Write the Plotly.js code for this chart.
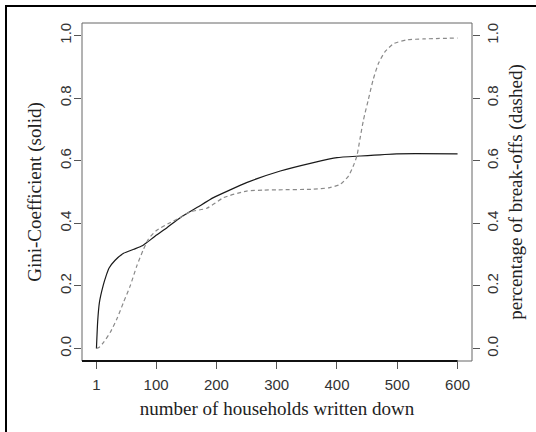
<!DOCTYPE html>
<html>
<head>
<meta charset="utf-8">
<script src="https://cdn.plot.ly/plotly-3.0.1.min.js"></script>
<style>
  html, body { margin: 0; padding: 0; background: #fff; }
  #wrap { position: relative; width: 536px; height: 432px; overflow: hidden; }
  #chart { position: absolute; left: 0; top: 0; width: 536px; height: 432px; }
  #frame { position: absolute; left: 5px; top: 5px; width: 600px; height: 600px;
           border-left: 2px solid #000; border-top: 2px solid #000; pointer-events: none; }
</style>
</head>
<body>
<div id="wrap">
  <div id="chart"></div>
  <div id="frame"></div>
</div>
<script>
// Gini-Coefficient (solid line)
const householdsGini = [1, 3, 6, 12, 17, 22, 32, 46, 63, 77, 85, 99, 118, 140, 170, 195, 250, 306, 361, 400, 438, 499, 600];
const gini = [0, 0.085, 0.148, 0.2, 0.232, 0.257, 0.282, 0.304, 0.317, 0.328, 0.339, 0.36, 0.386, 0.418, 0.453, 0.482, 0.53, 0.567, 0.594, 0.61, 0.615, 0.622, 0.622];

// percentage of break-offs (dashed line)
const householdsBreak = [1, 5, 13, 24, 35, 46, 57, 68, 79, 87, 100, 123, 140, 157, 184, 212, 250, 278, 300, 361, 388, 405, 419, 427, 433, 438, 444, 452, 460, 469, 480, 494, 516, 543, 600];
const breakoffs = [0, 0.003, 0.02, 0.052, 0.095, 0.148, 0.2, 0.264, 0.317, 0.349, 0.376, 0.402, 0.418, 0.437, 0.448, 0.482, 0.503, 0.506, 0.507, 0.509, 0.514, 0.524, 0.551, 0.583, 0.615, 0.668, 0.731, 0.795, 0.859, 0.912, 0.949, 0.974, 0.986, 0.989, 0.992];

const xTicks = [1, 100, 200, 300, 400, 500, 600];
const yTicks = [0, 0.2, 0.4, 0.6, 0.8, 1.0];
const yTickText = ['0.0', '0.2', '0.4', '0.6', '0.8', '1.0'];

const xMin = 1 - 0.04 * (600 - 1), xMax = 600 + 0.04 * (600 - 1);
const yMin = -0.04, yMax = 1.04;

const tickFont = {family: 'Liberation Sans, Arial, sans-serif', size: 15, color: '#333'};
const titleFont = {family: 'Liberation Serif, Times New Roman, serif', size: 19, color: '#222'};

const traces = [
  {
    x: householdsBreak, y: breakoffs, type: 'scatter', mode: 'lines', yaxis: 'y2',
    line: {color: '#8a8a8a', width: 1.2, dash: '4px,3px', shape: 'spline', smoothing: 0.6},
    hoverinfo: 'skip'
  },
  {
    x: householdsGini, y: gini, type: 'scatter', mode: 'lines',
    line: {color: '#1a1a1a', width: 1.2, shape: 'spline', smoothing: 0.4},
    hoverinfo: 'skip'
  }
];

const axisCommon = {
  showgrid: false, zeroline: false, showline: false,
  ticks: 'outside', ticklen: 7, tickwidth: 1, tickcolor: '#555',
  tickfont: tickFont
};

const layout = {
  width: 536, height: 432,
  margin: {l: 82, r: 64, t: 23, b: 71},
  paper_bgcolor: 'rgba(0,0,0,0)', plot_bgcolor: '#fff',
  showlegend: false,
  xaxis: Object.assign({}, axisCommon, {
    range: [xMin, xMax], tickvals: xTicks, ticktext: xTicks.map(String),
    ticklabelstandoff: 3,
    title: {text: 'number of households written down', font: titleFont, standoff: 9}
  }),
  yaxis: Object.assign({}, axisCommon, {
    range: [yMin, yMax], tickvals: yTicks, ticktext: yTickText, tickangle: -90,
    ticklabelstandoff: -3,
    title: {text: 'Gini-Coefficient (solid)', font: titleFont, standoff: 10}
  }),
  yaxis2: Object.assign({}, axisCommon, {
    range: [yMin, yMax], tickvals: yTicks, ticktext: yTickText, tickangle: -90,
    overlaying: 'y', side: 'right',
    title: {text: 'percentage of break-offs (dashed)', font: titleFont, standoff: 8}
  }),
  shapes: [
    {type: 'rect', xref: 'paper', yref: 'paper', x0: 0, x1: 1, y0: 0, y1: 1,
     line: {color: '#666', width: 1}},
    {type: 'line', xref: 'x', yref: 'paper', x0: xMin, x1: 600, y0: 0, y1: 0,
     line: {color: '#111', width: 2}}
  ]
};

Plotly.newPlot('chart', traces, layout, {staticPlot: true, displayModeBar: false});
</script>
</body>
</html>
